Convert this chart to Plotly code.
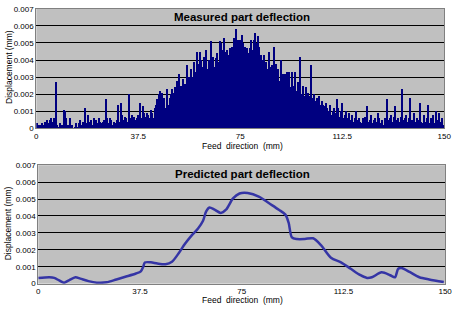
import plotly.graph_objects as go
from plotly.subplots import make_subplots

# Measured deflection (mm), one bar per 0.5 mm of feed
measured = [
    0.0003,0.0001,0.0002,0.0002,0.0003,0.0002,0.0004,0.0003,0.0005,0.0003,
    0.0005,0.0006,0.0004,0.0006,0.0027,0.0002,0.0001,0.0003,0.0001,0.0002,
    0.0011,0.0010,0.0006,0.0002,0.0001,0.0006,0.0002,0.0000,0.0001,0.0003,
    0.0001,0.0003,0.0005,0.0002,0.0004,0.0001,0.0012,0.0003,0.0008,0.0004,
    0.0005,0.0002,0.0006,0.0004,0.0005,0.0003,0.0006,0.0004,0.0003,0.0004,
    0.0005,0.0017,0.0006,0.0003,0.0006,0.0005,0.0002,0.0004,0.0003,0.0005,
    0.0014,0.0004,0.0015,0.0008,0.0005,0.0007,0.0006,0.0004,0.0020,0.0006,
    0.0008,0.0006,0.0007,0.0005,0.0006,0.0008,0.0015,0.0006,0.0013,0.0009,
    0.0007,0.0009,0.0008,0.0006,0.0011,0.0009,0.0006,0.0012,0.0014,0.0017,
    0.0020,0.0022,0.0021,0.0016,0.0018,0.0012,0.0023,0.0014,0.0018,0.0020,
    0.0023,0.0021,0.0024,0.0028,0.0022,0.0032,0.0025,0.0024,0.0029,0.0026,
    0.0024,0.0037,0.0030,0.0025,0.0035,0.0030,0.0039,0.0033,0.0045,0.0038,
    0.0045,0.0040,0.0036,0.0042,0.0038,0.0046,0.0035,0.0040,0.0051,0.0039,
    0.0042,0.0036,0.0041,0.0044,0.0039,0.0051,0.0050,0.0046,0.0053,0.0045,
    0.0046,0.0043,0.0047,0.0044,0.0048,0.0053,0.0050,0.0058,0.0052,0.0050,
    0.0052,0.0055,0.0050,0.0048,0.0045,0.0047,0.0044,0.0047,0.0052,0.0046,
    0.0052,0.0056,0.0050,0.0054,0.0048,0.0043,0.0040,0.0043,0.0035,0.0039,
    0.0035,0.0045,0.0036,0.0037,0.0033,0.0048,0.0038,0.0030,0.0035,0.0028,
    0.0040,0.0032,0.0028,0.0032,0.0033,0.0026,0.0033,0.0024,0.0033,0.0025,
    0.0033,0.0022,0.0027,0.0022,0.0042,0.0020,0.0025,0.0019,0.0024,0.0020,
    0.0021,0.0019,0.0037,0.0018,0.0020,0.0016,0.0018,0.0015,0.0019,0.0014,
    0.0016,0.0014,0.0013,0.0015,0.0012,0.0010,0.0014,0.0008,0.0010,0.0012,
    0.0009,0.0017,0.0012,0.0007,0.0010,0.0015,0.0006,0.0008,0.0010,0.0006,
    0.0009,0.0005,0.0008,0.0004,0.0006,0.0010,0.0005,0.0006,0.0004,0.0003,
    0.0006,0.0004,0.0007,0.0013,0.0004,0.0005,0.0008,0.0003,0.0005,0.0006,
    0.0004,0.0009,0.0006,0.0003,0.0005,0.0002,0.0006,0.0004,0.0017,0.0005,
    0.0006,0.0008,0.0004,0.0007,0.0013,0.0005,0.0006,0.0004,0.0007,0.0023,
    0.0005,0.0006,0.0008,0.0004,0.0006,0.0018,0.0005,0.0003,0.0009,0.0004,
    0.0006,0.0005,0.0015,0.0004,0.0003,0.0008,0.0004,0.0006,0.0014,0.0003,
    0.0006,0.0004,0.0008,0.0003,0.0010,0.0005,0.0009,0.0004,0.0006,0.0002,
]
measured_x = [i * 0.5 + 0.25 for i in range(len(measured))]

# Predicted deflection curve
pred_x = [0, 4.1, 5.9, 7.7, 9.5, 11.3, 13.7, 15.5, 18.5, 21.6, 25.2, 28.8, 32.4, 36.0,
          37.8, 38.7, 39.3, 41.5, 43.9, 46.9, 49.3, 51.7, 54.1, 56.5, 58.9, 60.7,
          61.9, 63.1, 65.0, 67.3, 69.2, 71.8, 74.2, 77.2, 81.5, 85.1, 88.7, 91.1,
          92.3, 93.5, 95.3, 98.3, 101.3, 104.3, 107.9, 111.6, 115.2, 118.8, 121.2,
          123.0, 126.6, 129.7, 131.5, 132.7, 133.9, 136.9, 140.5, 144.1, 149.5]
pred_y = [0.00033, 0.00038, 0.00034, 0.00019, 0.00006, 0.00020, 0.00038, 0.00030,
          0.00015, 0.00006, 0.00008, 0.00025, 0.00042, 0.00060, 0.00073, 0.00100,
          0.00125, 0.00126, 0.00119, 0.00115, 0.00130, 0.00178, 0.00236, 0.00284,
          0.00326, 0.00370, 0.00427, 0.00450, 0.00437, 0.00418, 0.00437, 0.00504,
          0.00533, 0.00536, 0.00513, 0.00475, 0.00437, 0.00408, 0.00360, 0.00274,
          0.00264, 0.00264, 0.00268, 0.00226, 0.00153, 0.00126, 0.00088, 0.00050,
          0.00034, 0.00038, 0.00067, 0.00050, 0.00038, 0.00088, 0.00092, 0.00069,
          0.00038, 0.00025, 0.00010]

x_ticks = [0, 37.5, 75, 112.5, 150]
x_tick_labels = ["0", "37.5", "75", "112.5", "150"]
y_ticks = [0, 0.001, 0.002, 0.003, 0.004, 0.005, 0.006, 0.007]
y_tick_labels = ["0", "0.001", "0.002", "0.003", "0.004", "0.005", "0.006", "0.007"]

W, H = 459, 311
fig = make_subplots(rows=2, cols=1)

fig.add_trace(go.Bar(x=measured_x, y=measured, width=0.5,
                     marker=dict(color="#000080", line=dict(width=0)),
                     showlegend=False), row=1, col=1)
fig.add_trace(go.Scatter(x=pred_x, y=pred_y, mode="lines",
                         line=dict(color="#3535a5", width=2.5, shape="spline", smoothing=0.8),
                         showlegend=False), row=2, col=1)

tickfont = dict(family="Liberation Sans, Arial", size=8, color="#000000")
axis_common_x = dict(range=[0, 150], tickvals=x_ticks, ticktext=x_tick_labels,
                     showgrid=False, zeroline=False, showline=True, linecolor="#808080",
                     linewidth=1, mirror=True, ticks="", tickfont=tickfont, ticklen=0)
axis_common_y = dict(range=[0, 0.007], tickvals=y_ticks, ticktext=y_tick_labels,
                     showgrid=True, gridcolor="#000000", gridwidth=1.2, zeroline=False,
                     showline=True, linecolor="#808080", linewidth=1, mirror=True,
                     ticks="", tickfont=tickfont)

fig.update_layout(
    width=W, height=H,
    margin=dict(l=0, r=0, t=0, b=0),
    paper_bgcolor="#ffffff",
    plot_bgcolor="#c0c0c0",
    bargap=0,
    xaxis=dict(domain=[35 / W, 451 / W], **axis_common_x),
    yaxis=dict(domain=[1 - 128 / H, 1 - 5 / H], **axis_common_y),
    xaxis2=dict(domain=[37 / W, 452 / W], **axis_common_x),
    yaxis2=dict(domain=[1 - 288 / H, 1 - 166 / H], **axis_common_y),
)

titlefont = dict(family="Liberation Sans, Arial", size=11.5, color="#000000")
labfont = dict(family="Liberation Sans, Arial", size=8.5, color="#000000")
ann = [
    dict(text="<b>Measured part deflection</b>", x=245 / W, y=1 - 13 / H, xref="paper", yref="paper",
         showarrow=False, font=titlefont, xanchor="center", yanchor="middle"),
    dict(text="<b>Predicted part deflection</b>", x=245 / W, y=1 - 175 / H, xref="paper", yref="paper",
         showarrow=False, font=titlefont, xanchor="center", yanchor="middle"),
    dict(text="Displacement (mm)", x=7 / W, y=1 - 65 / H, xref="paper", yref="paper",
         showarrow=False, font=labfont, textangle=-90, xanchor="center", yanchor="middle"),
    dict(text="Displacement (mm)", x=7 / W, y=1 - 226 / H, xref="paper", yref="paper",
         showarrow=False, font=labfont, textangle=-90, xanchor="center", yanchor="middle"),
    dict(text="Feed  direction  (mm)", x=245 / W, y=1 - 146 / H, xref="paper", yref="paper",
         showarrow=False, font=labfont, xanchor="center", yanchor="middle"),
    dict(text="Feed  direction  (mm)", x=245 / W, y=1 - 305 / H, xref="paper", yref="paper",
         showarrow=False, font=labfont, xanchor="center", yanchor="middle"),
]
fig.update_layout(annotations=ann)

fig.write_html("out.html")
